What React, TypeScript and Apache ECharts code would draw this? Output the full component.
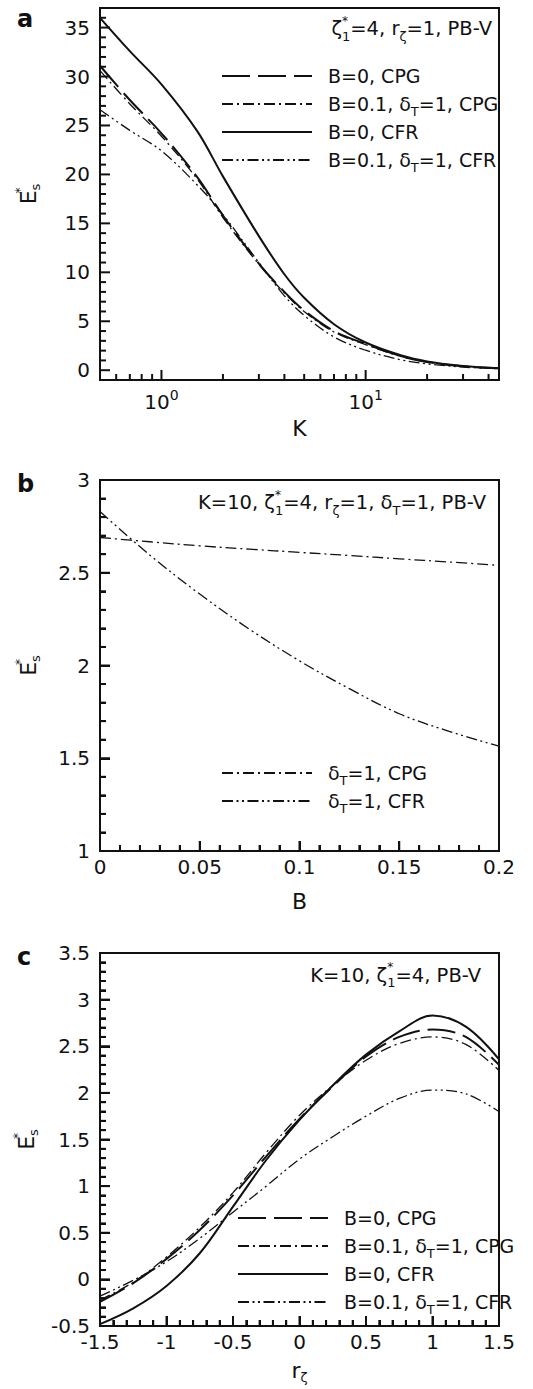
import React, { useEffect, useRef } from 'react';
import * as echarts from 'echarts';

// ---------- data ----------
// panel a : E*s versus K (log axis)
const K_VALUES = [0.5, 0.7, 1, 1.5, 2, 3, 4, 5, 7, 10, 15, 20, 30, 45];
const A_B0_CPG = [31.1, 27.6, 24.2, 19.7, 15.8, 10.9, 8.0, 6.1, 4.0, 2.69, 1.42, 0.85, 0.4, 0.19];
const A_B01_CPG = [30.6, 27.2, 23.9, 19.5, 15.6, 10.8, 7.9, 6.0, 3.9, 2.61, 1.38, 0.83, 0.39, 0.18];
const A_B0_CFR = [36.0, 32.6, 29.2, 24.4, 19.8, 13.7, 9.8, 7.4, 4.7, 2.83, 1.5, 0.9, 0.42, 0.2];
const A_B01_CFR = [26.6, 24.5, 22.4, 18.9, 15.9, 11.0, 7.6, 5.6, 3.4, 2.04, 1.05, 0.65, 0.32, 0.15];

// panel b : E*s versus B
const B_VALUES = [0, 0.025, 0.05, 0.075, 0.1, 0.125, 0.15, 0.175, 0.2];
const B_CPG = [2.69, 2.667, 2.645, 2.627, 2.61, 2.593, 2.575, 2.558, 2.54];
const B_CFR = [2.83, 2.595, 2.385, 2.195, 2.025, 1.875, 1.74, 1.645, 1.565];

// panel c : E*s versus r_zeta
const R_VALUES = [-1.5, -1.25, -1, -0.75, -0.5, -0.25, 0, 0.25, 0.5, 0.75, 1, 1.25, 1.5];
const C_B0_CPG = [-0.24, -0.04, 0.22, 0.53, 0.9, 1.32, 1.72, 2.07, 2.39, 2.6, 2.68, 2.6, 2.3];
const C_B01_CPG = [-0.22, -0.03, 0.24, 0.56, 0.93, 1.36, 1.76, 2.08, 2.35, 2.53, 2.6, 2.52, 2.24];
const C_B0_CFR = [-0.48, -0.31, -0.07, 0.28, 0.78, 1.28, 1.71, 2.08, 2.41, 2.66, 2.83, 2.71, 2.36];
const C_B01_CFR = [-0.18, -0.01, 0.19, 0.44, 0.72, 1.0, 1.29, 1.53, 1.75, 1.94, 2.03, 1.99, 1.8];

// tick values
const A_X_MAJOR = [1, 10];
const A_X_MINOR = [0.6, 0.7, 0.8, 0.9, 2, 3, 4, 5, 6, 7, 8, 9, 20, 30, 40];
const A_Y_MAJOR = [0, 5, 10, 15, 20, 25, 30, 35];
const A_Y_MINOR = [1, 2, 3, 4, 6, 7, 8, 9, 11, 12, 13, 14, 16, 17, 18, 19, 21, 22, 23, 24, 26, 27, 28, 29, 31, 32, 33, 34, 36];
const B_X_MAJOR = [0, 0.05, 0.1, 0.15, 0.2];
const B_Y_MAJOR = [1, 1.5, 2, 2.5, 3];
const C_X_MAJOR = [-1.5, -1, -0.5, 0, 0.5, 1, 1.5];
const C_Y_MAJOR = [-0.5, 0, 0.5, 1, 1.5, 2, 2.5, 3, 3.5];

const NAME_B0_CPG = 'B=0, CPG';
const NAME_B01_CPG = 'B=0.1, δT=1, CPG';
const NAME_B0_CFR = 'B=0, CFR';
const NAME_B01_CFR = 'B=0.1, δT=1, CFR';
const NAME_DT_CPG = 'δT=1, CPG';
const NAME_DT_CFR = 'δT=1, CFR';

// ---------- styles ----------
const FONT = "'DejaVu Sans', 'Liberation Sans', Arial, sans-serif";
const INK = '#111111';

const STYLE_DASH = { type: [28, 8] as any, width: 2 };
const STYLE_DASHDOT = { type: [11, 4, 2, 4] as any, width: 1.3 };
const STYLE_SOLID = { type: 'solid' as any, width: 2 };
const STYLE_DASHDOTDOT = { type: [11, 3.5, 2, 3.5, 2, 3.5] as any, width: 1.3 };

const MAJOR_LEN = 10;
const MINOR_LEN = 6;

function richSmall() {
  return {
    sp: { fontSize: 12, lineHeight: 12, verticalAlign: 'top', width: 0, fontFamily: FONT, color: INK },
    sb: { fontSize: 13, lineHeight: 13, verticalAlign: 'bottom', fontFamily: FONT, color: INK },
    p: { fontSize: 14, lineHeight: 14, verticalAlign: 'top', fontFamily: FONT, color: INK },
  };
}

// minor tick positions: equal subdivisions between consecutive major ticks
function minorsOf(majors: number[], parts: number) {
  const out: number[] = [];
  for (let i = 0; i < majors.length - 1; i++) {
    const a = majors[i];
    const b = majors[i + 1];
    for (let j = 1; j < parts; j++) out.push(+(a + ((b - a) * j) / parts).toFixed(6));
  }
  return out;
}

function mkSeries(name: string, xs: number[], ys: number[], xi: number, yi: number, st: any) {
  return {
    type: 'line',
    name,
    xAxisIndex: xi,
    yAxisIndex: yi,
    data: xs.map((x, i) => [x, ys[i]]),
    symbol: 'none',
    smooth: 0.35,
    clip: true,
    lineStyle: { color: INK, width: st.width, type: st.type },
    itemStyle: { color: INK },
  };
}

function axisLineStyle() {
  return { show: true, onZero: false, lineStyle: { color: INK, width: 2 } };
}
function labelStyle() {
  return { color: INK, fontFamily: FONT, fontSize: 20 };
}
function nameStyle() {
  return { color: INK, fontFamily: FONT, fontSize: 22, lineHeight: 28, rich: richSmall() };
}

function linAxis(gridIndex: number, min: number, max: number, interval: number, isX: boolean, name: string, nameGap: number) {
  return {
    type: 'value',
    gridIndex,
    position: isX ? 'bottom' : 'left',
    min,
    max,
    interval,
    axisLine: axisLineStyle(),
    axisTick: { show: true, inside: true, length: MAJOR_LEN, lineStyle: { color: INK, width: 2 } },
    minorTick: { show: true, splitNumber: 5, length: MINOR_LEN, lineStyle: { color: INK, width: 2 } },
    axisLabel: { ...labelStyle(), margin: isX ? 6 : 10 },
    splitLine: { show: false },
    minorSplitLine: { show: false },
    name,
    nameLocation: 'middle',
    nameGap,
    nameRotate: isX ? 0 : 90,
    nameTextStyle: nameStyle(),
  };
}

function legendText(name: string) {
  return name.replace('δT', 'δ{sb|T}');
}

function legend(left: number, top: number, data: string[]) {
  return {
    orient: 'vertical',
    left,
    top,
    padding: 0,
    itemGap: 0,
    itemWidth: 90,
    itemHeight: 14,
    selectedMode: false,
    data,
    formatter: legendText,
    itemStyle: { opacity: 0 },
    textStyle: {
      color: INK,
      fontFamily: FONT,
      fontSize: 19,
      lineHeight: 28,
      padding: [0, 0, 0, 11],
      rich: richSmall(),
    },
  };
}

function titleText(text: string, right: number, top: number) {
  return {
    text,
    right,
    top,
    padding: 0,
    textStyle: { color: INK, fontFamily: FONT, fontSize: 19.5, fontWeight: 'normal', lineHeight: 28, rich: richSmall() },
  };
}

function letter(text: string, top: number) {
  return {
    text,
    left: 17,
    top,
    padding: 0,
    textStyle: { color: INK, fontFamily: FONT, fontSize: 24, fontWeight: 'bold', lineHeight: 24 },
  };
}

// per panel: a series of the panel (its coordinate system), axis minimums and tick values
const TICK_PANELS = [
  { seriesIndex: 0, xMin: 0.5, yMin: -1, xMajor: A_X_MAJOR, xMinor: A_X_MINOR, yMajor: A_Y_MAJOR, yMinor: A_Y_MINOR },
  { seriesIndex: 4, xMin: 0, yMin: 1, xMajor: B_X_MAJOR, xMinor: minorsOf(B_X_MAJOR, 5), yMajor: B_Y_MAJOR, yMinor: minorsOf(B_Y_MAJOR, 5) },
  { seriesIndex: 6, xMin: -1.5, yMin: -0.5, xMajor: C_X_MAJOR, xMinor: minorsOf(C_X_MAJOR, 5), yMajor: C_Y_MAJOR, yMinor: minorsOf(C_Y_MAJOR, 5) },
];

// inward tick marks, positioned by converting values through the panels' own scales
function buildTicks(chart: any) {
  const els: any[] = [];
  TICK_PANELS.forEach((pn, gi) => {
    const toPx = (pt: number[]) => {
      let p: any = null;
      try {
        p = chart.convertToPixel({ seriesIndex: pn.seriesIndex }, pt);
      } catch (e) {
        p = null;
      }
      if (!p || isNaN(p[0]) || isNaN(p[1])) {
        try {
          p = chart.convertToPixel({ gridIndex: gi }, pt);
        } catch (e) {
          p = null;
        }
      }
      return p && !isNaN(p[0]) && !isNaN(p[1]) ? p : null;
    };
    const addX = (v: number, len: number) => {
      const p = toPx([v, pn.yMin]);
      if (!p) return;
      els.push({ type: 'line', silent: true, z: 100, shape: { x1: p[0], y1: p[1], x2: p[0], y2: p[1] - len }, style: { stroke: INK, lineWidth: 2 } });
    };
    const addY = (v: number, len: number) => {
      const p = toPx([pn.xMin, v]);
      if (!p) return;
      els.push({ type: 'line', silent: true, z: 100, shape: { x1: p[0], y1: p[1], x2: p[0] + len, y2: p[1] }, style: { stroke: INK, lineWidth: 2 } });
    };
    pn.xMajor.forEach((v) => addX(v, MAJOR_LEN));
    pn.xMinor.forEach((v) => addX(v, MINOR_LEN));
    pn.yMajor.forEach((v) => addY(v, MAJOR_LEN));
    pn.yMinor.forEach((v) => addY(v, MINOR_LEN));
  });
  return els;
}

function buildOption() {
  const grids = [
    { left: 100, top: 8, width: 399, height: 372 },
    { left: 100, top: 480, width: 399, height: 371 },
    { left: 100, top: 953, width: 399, height: 373 },
  ].map((g) => ({ ...g, show: true, borderColor: INK, borderWidth: 2 }));

  const xAxis: any[] = [
    {
      type: 'log',
      logBase: 10,
      gridIndex: 0,
      position: 'bottom',
      min: 0.5,
      max: 45,
      axisLine: axisLineStyle(),
      axisTick: { show: false },
      axisLabel: {
        ...labelStyle(),
        margin: 8,
        customValues: A_X_MAJOR,
        formatter: (v: number) => '{m|10}{p|' + Math.round(Math.log10(v)) + '}',
        rich: { ...richSmall(), m: { fontSize: 20, lineHeight: 24, verticalAlign: 'bottom', fontFamily: FONT, color: INK } },
      },
      splitLine: { show: false },
      name: 'K',
      nameLocation: 'middle',
      nameGap: 34,
      nameTextStyle: nameStyle(),
    },
    linAxis(1, 0, 0.2, 0.05, true, 'B', 36),
    linAxis(2, -1.5, 1.5, 0.5, true, 'r{sb|ζ}', 30),
  ];

  const yAxis: any[] = [
    {
      type: 'value',
      gridIndex: 0,
      position: 'left',
      min: -1,
      max: 37,
      axisLine: axisLineStyle(),
      axisTick: { show: false },
      axisLabel: { ...labelStyle(), margin: 10, customValues: A_Y_MAJOR },
      splitLine: { show: false },
      name: 'E{sp|*}{sb|s}',
      nameLocation: 'middle',
      nameGap: 58,
      nameRotate: 90,
      nameTextStyle: nameStyle(),
    },
    linAxis(1, 1, 3, 0.5, false, 'E{sp|*}{sb|s}', 58),
    linAxis(2, -0.5, 3.5, 0.5, false, 'E{sp|*}{sb|s}', 58),
  ];

  const series: any[] = [
    mkSeries(NAME_B0_CPG, K_VALUES, A_B0_CPG, 0, 0, STYLE_DASH),
    mkSeries(NAME_B01_CPG, K_VALUES, A_B01_CPG, 0, 0, STYLE_DASHDOT),
    mkSeries(NAME_B0_CFR, K_VALUES, A_B0_CFR, 0, 0, STYLE_SOLID),
    mkSeries(NAME_B01_CFR, K_VALUES, A_B01_CFR, 0, 0, STYLE_DASHDOTDOT),

    mkSeries(NAME_DT_CPG, B_VALUES, B_CPG, 1, 1, STYLE_DASHDOT),
    mkSeries(NAME_DT_CFR, B_VALUES, B_CFR, 1, 1, STYLE_DASHDOTDOT),

    mkSeries(NAME_B0_CPG, R_VALUES, C_B0_CPG, 2, 2, STYLE_DASH),
    mkSeries(NAME_B01_CPG, R_VALUES, C_B01_CPG, 2, 2, STYLE_DASHDOT),
    mkSeries(NAME_B0_CFR, R_VALUES, C_B0_CFR, 2, 2, STYLE_SOLID),
    mkSeries(NAME_B01_CFR, R_VALUES, C_B01_CFR, 2, 2, STYLE_DASHDOTDOT),
  ];

  const panelNames = [NAME_B0_CPG, NAME_B01_CPG, NAME_B0_CFR, NAME_B01_CFR];

  return {
    animation: false,
    title: [
      letter('a', 7),
      letter('b', 472),
      letter('c', 945),
      titleText('ζ{sp|*}{sb|1}=4, r{sb|ζ}=1, PB-V', 41, 14.5),
      titleText('K=10, ζ{sp|*}{sb|1}=4, r{sb|ζ}=1, δ{sb|T}=1, PB-V', 47, 488.5),
      titleText('K=10, ζ{sp|*}{sb|1}=4, PB-V', 52, 961),
    ],
    legend: [
      legend(221, 62, panelNames),
      legend(221, 759, [NAME_DT_CPG, NAME_DT_CFR]),
      legend(237, 1204, panelNames),
    ],
    grid: grids,
    xAxis,
    yAxis,
    series,
  };
}

export default function App() {
  const ref = useRef<HTMLDivElement>(null);
  useEffect(() => {
    if (!ref.current) return;
    const chart = echarts.init(ref.current, undefined, { renderer: 'svg' });
    chart.setOption(buildOption() as any);
    try {
      const ticks = buildTicks(chart);
      if (ticks.length) chart.setOption({ graphic: { elements: ticks } } as any);
    } catch (e) {
      // keep the chart even if ticks cannot be placed
    }
    return () => chart.dispose();
  }, []);
  return (
    <div
      ref={ref}
      style={{ position: 'absolute', left: 0, top: 0, width: 533, height: 1389, background: '#ffffff' }}
    />
  );
}
